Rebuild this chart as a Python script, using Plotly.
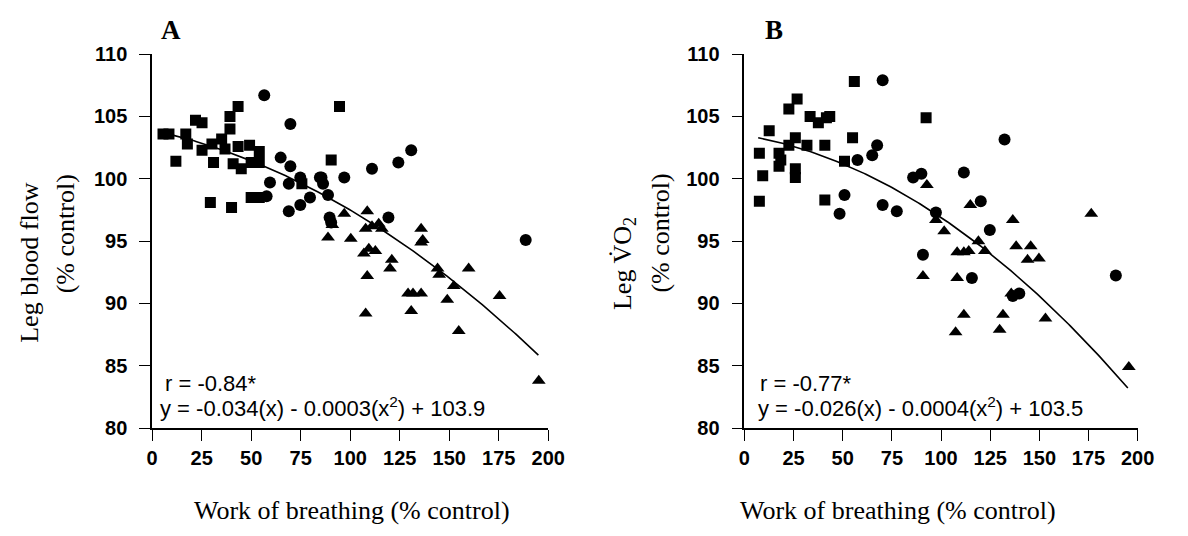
import numpy as np
import plotly.graph_objects as go

# ---------------- Data ----------------
# Panel A: Leg blood flow (% control) vs Work of breathing (% control)
a_sq_x = [5.5, 8.5, 12.0, 17.0, 17.8, 21.9, 25.2, 25.2, 30.2, 31.0, 35.1, 39.3, 39.3, 43.4,
          36.8, 40.9, 45.0, 43.4, 49.2, 50.0, 54.1, 54.1, 29.4, 40.1, 50.0, 54.1, 94.6, 90.4, 75.6]
a_sq_y = [103.6, 103.6, 101.4, 103.6, 102.8, 104.7, 104.5, 102.3, 102.8, 101.3, 103.2, 104.0, 105.0, 105.8,
          102.4, 101.2, 100.8, 102.6, 102.7, 101.3, 102.2, 101.3, 98.1, 97.7, 98.5, 98.5, 105.8, 101.5, 99.6]
a_ci_x = [56.6, 69.8, 130.8, 124.3, 111.0, 97.0, 59.5, 64.9, 69.8, 69.0, 69.0, 74.8, 79.7,
          85.5, 86.3, 88.8, 89.6, 90.4, 119.3, 188.6, 57.8, 74.8, 84.7]
a_ci_y = [106.7, 104.4, 102.3, 101.3, 100.8, 100.1, 99.7, 101.7, 101.0, 99.6, 97.4, 97.9, 98.5,
          100.1, 99.6, 98.7, 96.9, 96.5, 96.9, 95.1, 98.6, 100.1, 100.1]
a_tr_x = [97.0, 108.6, 88.8, 100.3, 107.8, 111.0, 114.4, 116.0, 109.4, 112.7, 106.9, 108.6, 121.0,
          120.1, 135.8, 136.6, 135.8, 144.1, 144.9, 159.8, 152.3, 149.0, 129.2, 131.7, 135.8, 130.8,
          107.8, 154.8, 175.4, 195.2, 91.0]
a_tr_y = [97.2, 97.4, 95.3, 95.2, 96.0, 96.2, 96.4, 96.0, 94.4, 94.2, 94.0, 92.2, 93.5,
          92.8, 96.0, 95.1, 94.9, 92.8, 92.3, 92.8, 91.4, 90.3, 90.8, 90.8, 90.8, 89.4,
          89.2, 87.8, 90.6, 83.8, 96.3]

# Panel B: Leg VO2 (% control) vs Work of breathing (% control)
b_sq_x = [7.6, 9.3, 7.6, 12.6, 17.6, 18.5, 17.6, 22.6, 26.8, 25.9, 22.6, 25.9, 25.9, 31.8,
          33.4, 37.6, 41.7, 43.4, 40.9, 40.9, 55.9, 55.0, 50.9, 92.4]
b_sq_y = [102.05, 100.25, 98.2, 103.85, 102.05, 101.5, 101.0, 105.6, 106.4, 103.3, 102.7, 100.8, 100.1, 102.7,
          105.0, 104.5, 104.9, 105.0, 102.7, 98.3, 107.8, 103.3, 101.4, 104.9]
b_ci_x = [70.3, 57.5, 67.5, 65.0, 50.9, 48.4, 70.3, 77.5, 85.8, 90.0, 97.4, 111.6, 120.2,
          124.8, 132.3, 90.8, 115.7, 139.8, 136.5, 188.9]
b_ci_y = [107.9, 101.5, 102.7, 101.9, 98.7, 97.2, 97.9, 97.4, 100.1, 100.4, 97.3, 100.5, 98.2,
          95.9, 103.15, 93.9, 92.05, 90.8, 90.6, 92.25]
b_tr_x = [92.8, 90.8, 97.4, 101.6, 114.9, 108.2, 111.6, 114.1, 108.2, 111.6, 107.4, 119.0, 122.3,
          136.5, 138.2, 145.6, 144.0, 149.8, 135.7, 131.5, 129.8, 153.1, 176.4, 195.5]
b_tr_y = [99.5, 92.2, 96.7, 95.8, 97.9, 94.1, 94.1, 94.2, 92.05, 89.1, 87.7, 95.0, 94.2,
          96.7, 94.6, 94.6, 93.5, 93.6, 90.8, 89.1, 87.9, 88.8, 97.2, 84.9]

# Fitted quadratic coefficients as printed on the chart: y = b1*x + b2*x^2 + b0
fit_a = dict(b1=-0.034, b2=-0.0003, b0=103.9)
fit_b = dict(b1=-0.026, b2=-0.0004, b0=103.5)
fit_x_range = (7, 195)

x_ticks = [0, 25, 50, 75, 100, 125, 150, 175, 200]
y_ticks = [80, 85, 90, 95, 100, 105, 110]

# ---------------- Figure ----------------
W, H = 1188, 536


def px(x):
    return x / W


def py(y):
    return 1 - y / H


fig = go.Figure()

SERIF = "Liberation Serif, Times New Roman, serif"
SANS = "Liberation Sans, Arial, sans-serif"


def add_panel(sx, sy, cx, cy, tx, ty, fit, xa, ya):
    common = dict(mode="markers", xaxis=xa, yaxis=ya, showlegend=False, hoverinfo="skip")
    fig.add_trace(go.Scatter(x=sx, y=sy, marker=dict(symbol="square", size=11, color="black"), **common))
    fig.add_trace(go.Scatter(x=cx, y=cy, marker=dict(symbol="circle", size=12, color="black"), **common))
    fig.add_trace(go.Scatter(x=tx, y=ty, marker=dict(symbol="triangle-up", size=12, color="black"), **common))
    fx = np.linspace(fit_x_range[0], fit_x_range[1], 200)
    fy = fit["b1"] * fx + fit["b2"] * fx ** 2 + fit["b0"]
    fig.add_trace(go.Scatter(x=fx, y=fy, mode="lines", line=dict(color="black", width=1.6),
                             xaxis=xa, yaxis=ya, showlegend=False, hoverinfo="skip"))


add_panel(a_sq_x, a_sq_y, a_ci_x, a_ci_y, a_tr_x, a_tr_y, fit_a, "x", "y")
add_panel(b_sq_x, b_sq_y, b_ci_x, b_ci_y, b_tr_x, b_tr_y, fit_b, "x2", "y2")

top, bottom = 45, 435
ax_common = dict(showgrid=False, zeroline=False, showline=True, linecolor="black", linewidth=1.6,
                 ticks="outside", ticklen=11, tickwidth=1.4, tickcolor="black",
                 tickfont=dict(family=SANS, size=20, color="black", weight="bold"))

fig.update_layout(
    width=W, height=H, margin=dict(l=0, r=0, t=0, b=0),
    paper_bgcolor="white", plot_bgcolor="white",
    xaxis=dict(domain=[px(149), px(553)], range=[0, 200], tickvals=x_ticks, anchor="y", **ax_common),
    yaxis=dict(domain=[py(bottom), py(top)], range=[80, 110], tickvals=y_ticks, anchor="x",
               ticklabelstandoff=8, **ax_common),
    xaxis2=dict(domain=[px(753), px(1154)], range=[0, 200], tickvals=x_ticks, anchor="y2", **ax_common),
    yaxis2=dict(domain=[py(bottom), py(top)], range=[80, 110], tickvals=y_ticks, anchor="x2",
                ticklabelstandoff=8, **ax_common),
)

ann = []


def text(x, y, s, size, family, xanchor="center", yanchor="middle", angle=0, weight="normal"):
    ann.append(dict(x=px(x), y=py(y), xref="paper", yref="paper", text=s, showarrow=False,
                    xanchor=xanchor, yanchor=yanchor, textangle=angle,
                    font=dict(family=family, size=size, color="black", weight=weight)))


# panel letters
text(168, 20, "A", 27, SERIF, weight="bold")
text(783, 20, "B", 27, SERIF, weight="bold")
# x titles
text(353, 521, "Work of breathing (% control)", 26, SERIF)
text(910, 521, "Work of breathing (% control)", 26, SERIF)
# y titles
text(24, 262, "Leg blood flow", 26, SERIF, angle=-90)
text(61, 232, "(% control)", 26, SERIF, angle=-90)
text(630, 263, "Leg V\u0307O<sub>2</sub>", 26, SERIF, angle=-90)
text(667, 232, "(% control)", 26, SERIF, angle=-90)
# stats
text(160, 388, "r = -0.84*", 22, SANS, xanchor="left")
text(155, 413, "y = -0.034(x) - 0.0003(x<sup>2</sup>) + 103.9", 22, SANS, xanchor="left")
text(767, 388, "r = -0.77*", 22, SANS, xanchor="left")
text(765, 413, "y = -0.026(x) - 0.0004(x<sup>2</sup>) + 103.5", 22, SANS, xanchor="left")

fig.update_layout(annotations=ann)

fig.write_html("out.html")
